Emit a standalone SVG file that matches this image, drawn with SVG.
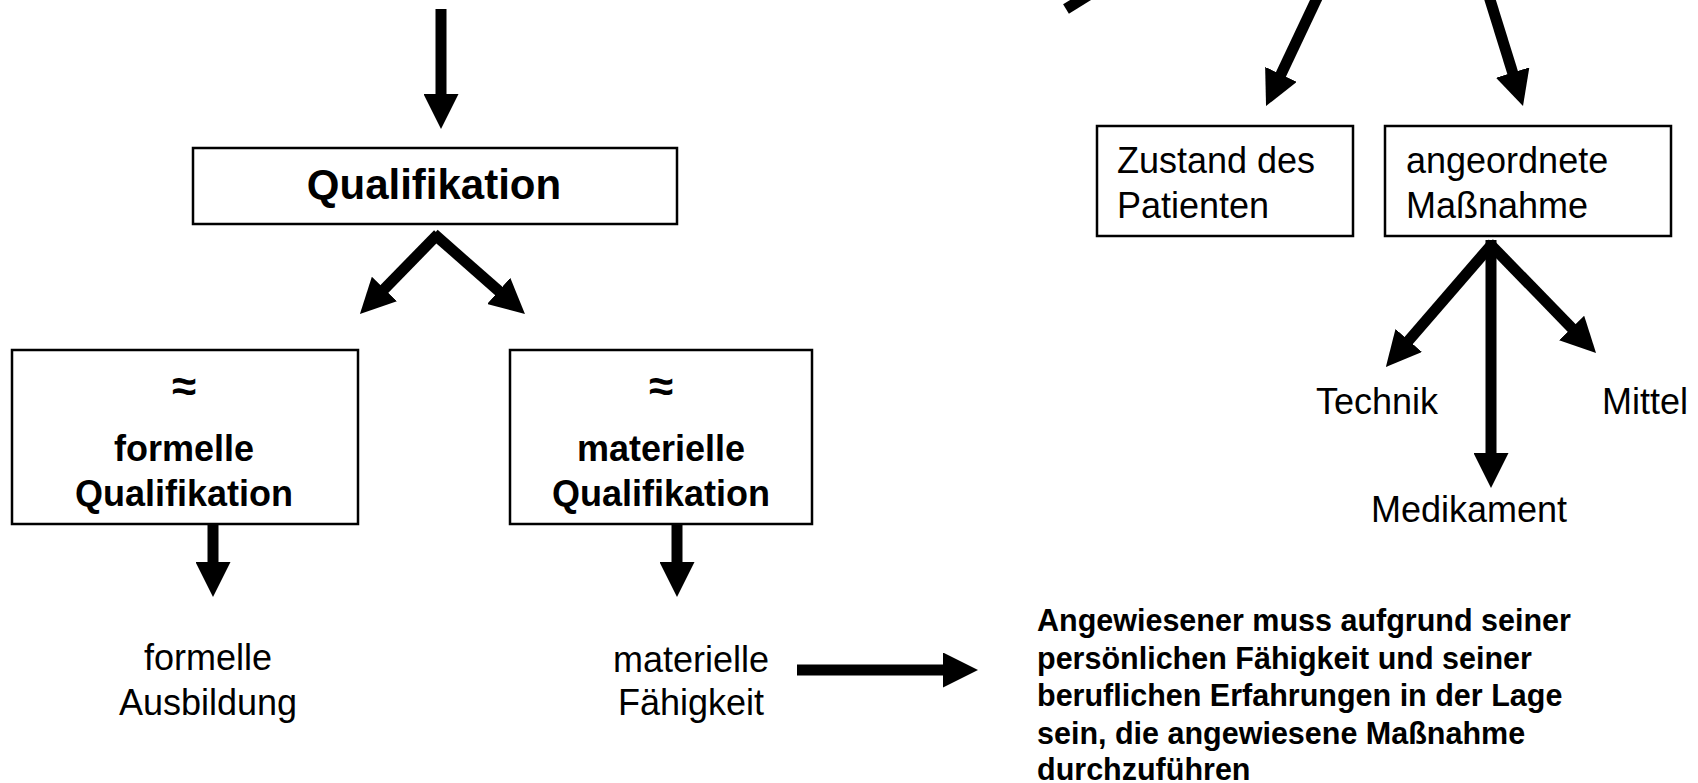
<svg xmlns="http://www.w3.org/2000/svg" width="1698" height="783" viewBox="0 0 1698 783">
<style>
.box{fill:#fff;stroke:#000;stroke-width:2.5}
.t{font-family:"Liberation Sans",Arial,sans-serif;fill:#000}
.b{font-weight:bold}
.r{font-size:36px}
.bb{font-size:36px;font-weight:bold}
.ap{font-size:44px;font-weight:bold}
.c{text-anchor:middle}
.arr{stroke:#000;stroke-width:11;fill:none;marker-end:url(#ah)}
</style>
<defs>
<marker id="ah" viewBox="0 0 35 35" markerWidth="35" markerHeight="35" markerUnits="userSpaceOnUse" refX="10" refY="17.5" orient="auto">
<path d="M0,0 L35,17.5 L0,35 Z" fill="#000"/>
</marker>
</defs>
<rect width="1698" height="783" fill="#fff"/>
<g id="connectors">
<line class="arr" x1="441" y1="9" x2="441" y2="104"/>
<line class="arr" x1="438" y1="234" x2="377.4" y2="296.1"/>
<line class="arr" x1="434" y1="234" x2="506.2" y2="297.5"/>
<line class="arr" x1="213" y1="524" x2="213" y2="572"/>
<line class="arr" x1="677" y1="524" x2="677" y2="572"/>
<line class="arr" x1="797" y1="670" x2="953" y2="670"/>
<line stroke="#000" stroke-width="11" x1="1066" y1="9" x2="1100" y2="-12"/>
<line class="arr" x1="1320.3" y1="-9" x2="1276.7" y2="83.4"/>
<line class="arr" x1="1487" y1="-10" x2="1515.6" y2="82.1"/>
<line class="arr" x1="1493" y1="243" x2="1402.2" y2="348"/>
<line class="arr" x1="1491" y1="240" x2="1491" y2="463"/>
<line class="arr" x1="1489" y1="243" x2="1578.6" y2="335.1"/>
</g>
<g id="qualifikation">
<rect class="box" x="193" y="148" width="484" height="76"/>
<text class="t b c" x="434" y="199" font-size="42">Qualifikation</text>
</g>
<g id="formelle-qualifikation">
<rect class="box" x="12" y="350" width="346" height="174"/>
<text class="t ap c" x="184" y="401">≈</text>
<text class="t bb c" x="184" y="461">formelle</text>
<text class="t bb c" x="184" y="506">Qualifikation</text>
</g>
<g id="materielle-qualifikation">
<rect class="box" x="510" y="350" width="302" height="174"/>
<text class="t ap c" x="661" y="401">≈</text>
<text class="t bb c" x="661" y="461">materielle</text>
<text class="t bb c" x="661" y="506">Qualifikation</text>
</g>
<g id="formelle-ausbildung">
<text class="t r c" x="208" y="670">formelle</text>
<text class="t r c" x="208" y="715">Ausbildung</text>
</g>
<g id="materielle-faehigkeit">
<text class="t r c" x="691" y="672">materielle</text>
<text class="t r c" x="691" y="715">Fähigkeit</text>
</g>
<g id="angewiesener">
<text class="t b" x="1037" font-size="30.5">
<tspan x="1037" y="631">Angewiesener muss aufgrund seiner</tspan>
<tspan x="1037" y="668.5">persönlichen Fähigkeit und seiner</tspan>
<tspan x="1037" y="706">beruflichen Erfahrungen in der Lage</tspan>
<tspan x="1037" y="743.5">sein, die angewiesene Maßnahme</tspan>
<tspan x="1037" y="780">durchzuführen</tspan>
</text>
</g>
<g id="zustand">
<rect class="box" x="1097" y="126" width="256" height="110"/>
<text class="t r" x="1117" y="173">Zustand des</text>
<text class="t r" x="1117" y="218">Patienten</text>
</g>
<g id="massnahme">
<rect class="box" x="1385" y="126" width="286" height="110"/>
<text class="t r" x="1406" y="173">angeordnete</text>
<text class="t r" x="1406" y="218">Maßnahme</text>
</g>
<g id="technik"><text class="t r c" x="1377" y="414">Technik</text></g>
<g id="mittel"><text class="t r c" x="1645" y="414">Mittel</text></g>
<g id="medikament"><text class="t r c" x="1469" y="522">Medikament</text></g>
</svg>
